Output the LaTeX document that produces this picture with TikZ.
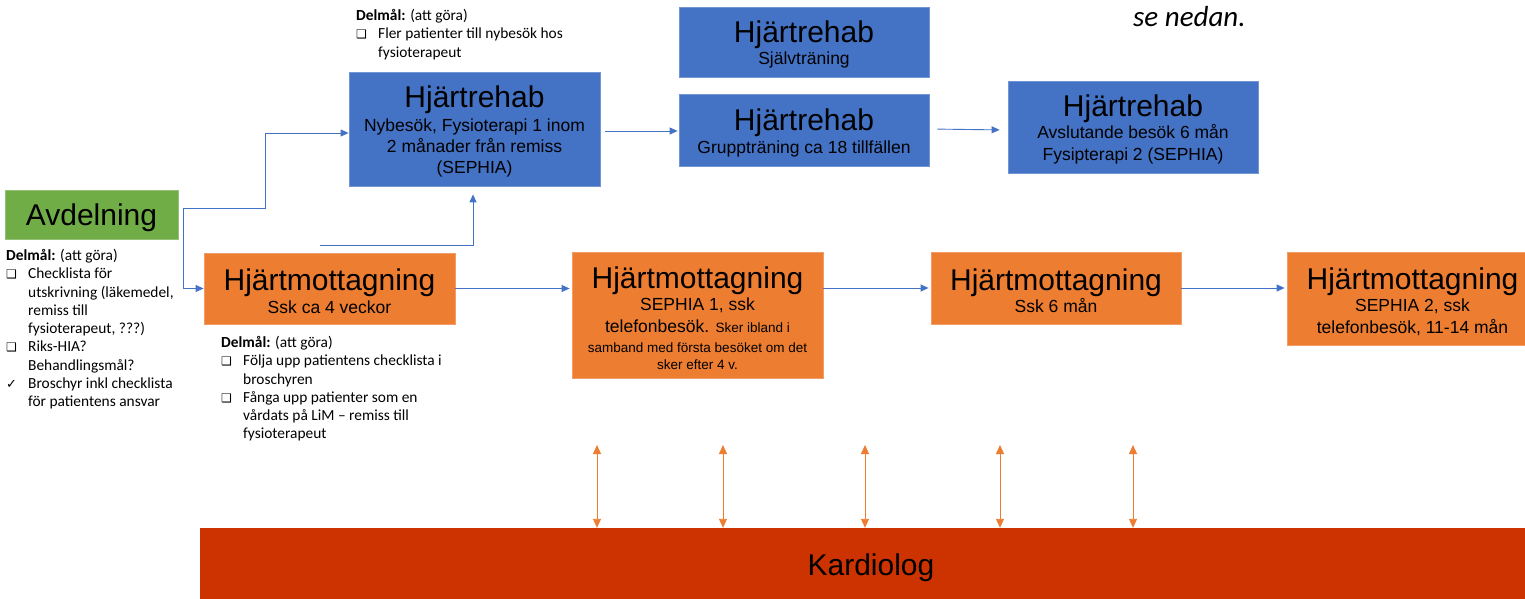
\documentclass[tikz,border=0pt]{standalone}
\usepackage{fontspec}
\setmainfont{Liberation Sans}
\newfontfamily\calib{Carlito}
\newfontfamily\dvs{DejaVu Sans}
\usetikzlibrary{arrows.meta}
\definecolor{rblue}{HTML}{4472C4}
\definecolor{rgreen}{HTML}{70AD47}
\definecolor{rorange}{HTML}{ED7D31}
\definecolor{rred}{HTML}{CC3300}
\newcommand{\ttl}{\fontsize{30}{32}\selectfont\rule{0pt}{27.5pt}}
\newcommand{\sbt}{\fontsize{17.5}{22}\selectfont}
\newcommand{\smt}{\fontsize{13.5}{18}\selectfont}
\newcommand{\bx}{\makebox[22pt][l]{\dvs\fontsize{12}{12}\selectfont ❑}}
\newcommand{\ck}{\makebox[22pt][l]{\dvs\fontsize{13}{13}\selectfont ✓}}
\newcommand{\ind}{\hspace*{22pt}}
\begin{document}
\begin{tikzpicture}[x=1pt,y=-1pt,
  blk/.style={rectangle, inner sep=0pt, align=center, text=black, font=\sbt},
  rehab/.style={blk, fill=rblue, draw=rblue!75!white, line width=0.8pt},
  mott/.style={blk, fill=rorange, draw=rorange!75!white, line width=0.8pt},
  avd/.style={blk, fill=rgreen, draw=rgreen!75!white, line width=0.8pt},
  note/.style={inner sep=0pt, align=left, anchor=north west, font=\calib\fontsize{15.4}{18.3}\selectfont},
  arr/.style={draw=rblue, line width=0.9pt, -{Triangle[width=7pt,length=8pt]}},
  darr/.style={draw=rorange, line width=0.9pt, {Triangle[width=8pt,length=9pt]}-{Triangle[width=8pt,length=9pt]}}
]
\clip (0,0) rectangle (1525,599);
\fill[white] (0,0) rectangle (1525,599);

% boxes
\node[avd, minimum width=173pt, minimum height=49pt] (av) at (91.5,214.5) {\ttl Avdelning};
\node[rehab, minimum width=251pt, minimum height=114pt] (reh1) at (474.5,129)
  {\ttl Hjärtrehab\\[2pt] Nybesök, Fysioterapi 1 inom\\[-1pt] 2 månader från remiss\\[-1pt] (SEPHIA)};
\node[rehab, minimum width=250pt, minimum height=70pt] (reh2) at (804,42)
  {\ttl Hjärtrehab\\[0pt] Självträning};
\node[rehab, minimum width=250pt, minimum height=72pt] (reh3) at (804,130)
  {\ttl Hjärtrehab\\[1pt] Gruppträning ca 18 tillfällen};
\node[rehab, minimum width=250pt, minimum height=92pt] (reh4) at (1133,127)
  {\ttl Hjärtrehab\\[0pt] Avslutande besök 6 mån\\ Fysipterapi 2 (SEPHIA)};
\node[mott, minimum width=251pt, minimum height=71pt] (hm1) at (329.5,288.5)
  {\ttl Hjärtmottagning\\[1pt] Ssk ca 4 veckor};
\node[mott, minimum width=251pt, minimum height=126pt] (hm2) at (697.5,315)
  {\ttl Hjärtmottagning\\[0pt] SEPHIA 1, ssk\\[0pt] telefonbesök. {\smt Sker ibland i}\\[-2pt] {\smt samband med första besöket om det}\\[-5pt] {\smt sker efter 4 v.}};
\node[mott, minimum width=250pt, minimum height=72pt] (hm3) at (1056,288)
  {\ttl Hjärtmottagning\\[0pt] Ssk 6 mån};
\node[mott, minimum width=251pt, minimum height=93pt] (hm4) at (1412.5,298.5)
  {\ttl Hjärtmottagning\\[0pt] SEPHIA 2, ssk\\ telefonbesök, 11-14 mån};
\node[blk, fill=rred, minimum width=1342pt, minimum height=74pt] (kard) at (871,565) {\ttl Kardiolog};

% notes
\node[note] (n1) at (356,9) {\textbf{Delmål:} (att göra)\\ \bx Fler patienter till nybesök hos\\ \ind fysioterapeut};
\node[note] (n2) at (6,249) {\textbf{Delmål:} (att göra)\\ \bx Checklista för\\ \ind utskrivning (läkemedel,\\ \ind remiss till\\ \ind fysioterapeut, ???)\\ \bx Riks-HIA?\\ \ind Behandlingsmål?\\ \ck Broschyr inkl checklista\\ \ind för patientens ansvar};
\node[note] (n3) at (221,336) {\textbf{Delmål:} (att göra)\\ \bx Följa upp patientens checklista i\\ \ind broschyren\\ \bx Fånga upp patienter som en\\ \ind vårdats på LiM – remiss till\\ \ind fysioterapeut};
\node[inner sep=0pt, anchor=base west, font=\calib\itshape\fontsize{29}{29}\selectfont] (sn) at (1133,27) {se nedan.};

% blue connectors
\coordinate (j1) at (183,208);
\coordinate (j1b) at (265,208);
\coordinate (j2) at (320,245);
\draw[arr] (j1) -- (j1b) |- ([yshift=-4pt]reh1.west);
\draw[arr] (j1) |- (hm1.west);
\draw[arr, shorten >=8pt] (j2) -| ([xshift=-1.5pt]reh1.south);
\draw[arr, shorten <=5pt, shorten >=1pt] ([yshift=-2pt]reh1.east) -- ([yshift=-1pt]reh3.west);
\draw[arr, shorten <=8pt, shorten >=8pt] ([yshift=1pt]reh3.east) -- (reh3.east -| reh4.west);
\draw[arr, shorten >=2pt] (hm1.east) -- (hm1.east -| hm2.west);
\draw[arr, shorten >=2pt] (hm3.west -| hm2.east) -- (hm3.west);
\draw[arr, shorten >=2pt] (hm3.east) -- (hm3.east -| hm4.west);

% orange double arrows
\foreach \i/\x in {1/597,2/723,3/865,4/1000,5/1133}{
  \coordinate (t\i) at (\x,445);
  \draw[darr] (t\i) -- (t\i |- kard.north);
}
\end{tikzpicture}
\end{document}
